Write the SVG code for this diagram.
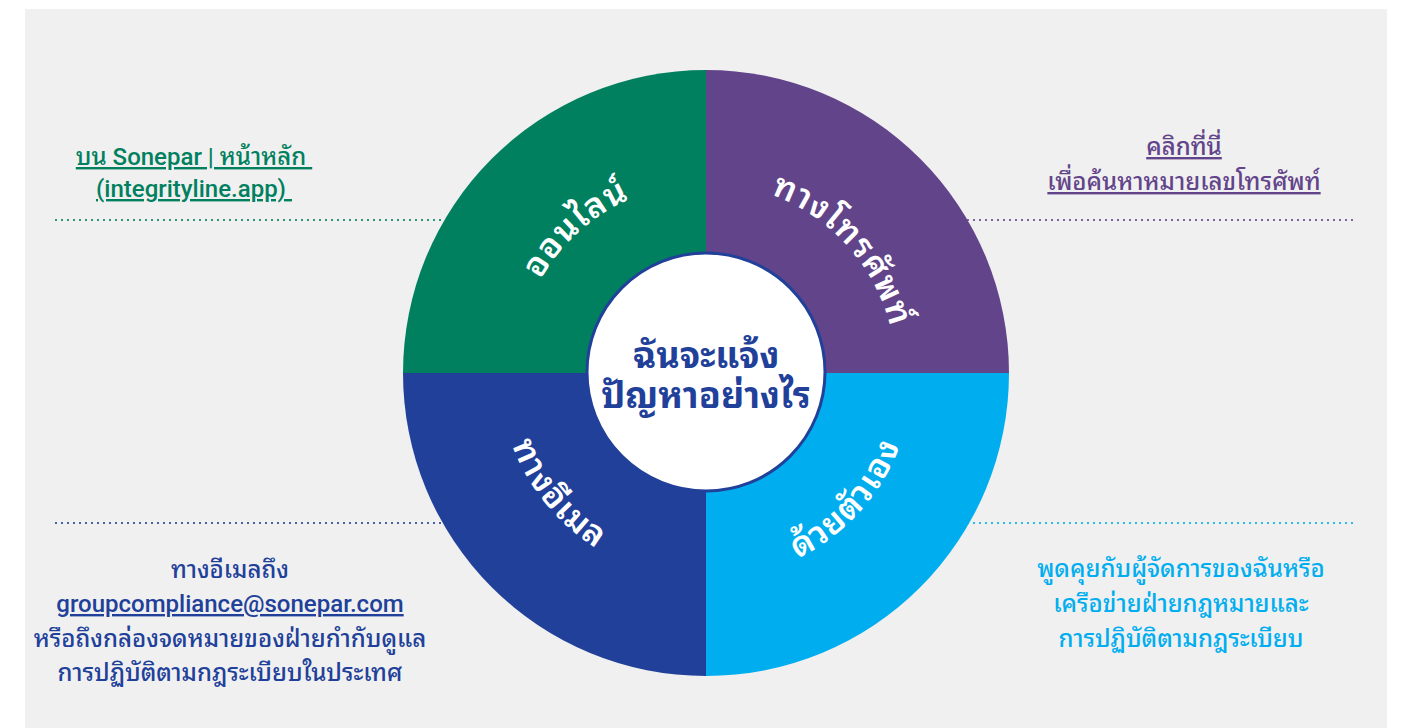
<svg xmlns="http://www.w3.org/2000/svg" width="1401" height="728" viewBox="0 0 1401 728">
<style>
.t{font-family:"Roboto","Noto Sans Thai Looped","Noto Sans Thai",sans-serif;text-anchor:middle;font-weight:500;font-size:24px;white-space:pre}
.u{text-decoration:underline}
.c{font-size:36px;font-weight:700;fill:#21409a}
.q{font-family:"Roboto","Noto Sans Thai Looped","Noto Sans Thai",sans-serif;text-anchor:middle;font-weight:600;font-size:34px;letter-spacing:1px;fill:#fff}
.dot{fill:none;stroke-width:2.2;stroke-linecap:round;stroke-dasharray:0 6}
</style>
<defs>
<path id="arc-online" d="M520.2 412.5 A190 190 0 0 1 764.7 192.3"/>
<path id="arc-phone" d="M666.5 187.2 A190 190 0 0 1 886.7 431.7"/>
<path id="arc-email" d="M512.5 299.5 A207 207 0 0 0 739.1 577.3"/>
<path id="arc-self" d="M663 575.5 A207 207 0 0 0 902.9 309"/>
</defs>
<rect x="25" y="9" width="1362" height="719" fill="#f0f0f0"/>
<g id="connectors">
<line class="dot" x1="56" y1="220" x2="450" y2="220" stroke="#00805f"/>
<line class="dot" x1="962" y1="220" x2="1357" y2="220" stroke="#62448a"/>
<line class="dot" x1="56" y1="523" x2="450" y2="523" stroke="#21409a"/>
<line class="dot" x1="962" y1="523" x2="1357" y2="523" stroke="#00aeef"/>
</g>
<g id="online">
<path d="M706 373 V70 A303 303 0 0 0 403 373 Z" fill="#00805f"/>
<text class="q"><textPath href="#arc-online" startOffset="50%">ออนไลน์</textPath></text>
</g>
<g id="phone">
<path d="M706 373 V70 A303 303 0 0 1 1009 373 Z" fill="#62448a"/>
<text class="q"><textPath href="#arc-phone" startOffset="50%">ทางโทรศัพท์</textPath></text>
</g>
<g id="email">
<path d="M706 373 H403 A303 303 0 0 0 706 676 Z" fill="#21409a"/>
<text class="q"><textPath href="#arc-email" startOffset="50%">ทางอีเมล</textPath></text>
</g>
<g id="self">
<path d="M706 373 H1009 A303 303 0 0 1 706 676 Z" fill="#00aeef"/>
<text class="q"><textPath href="#arc-self" startOffset="50%">ด้วยตัวเอง</textPath></text>
</g>
<g id="center">
<circle cx="706" cy="372" r="119" fill="#fff" stroke="#21409a" stroke-width="3"/>
<text class="t c" x="706" y="368">ฉันจะแจ้ง</text>
<text class="t c" x="706" y="408">ปัญหาอย่างไร</text>
</g>
<g id="label-online" fill="#00805f">
<text class="t u" x="194" y="165">บน Sonepar | หน้าหลัก </text>
<text class="t u" x="194" y="197">(integrityline.app) </text>
</g>
<g id="label-phone" fill="#62448a">
<text class="t u" x="1184" y="155">คลิกที่นี่</text>
<text class="t u" x="1184" y="190">เพื่อค้นหาหมายเลขโทรศัพท์</text>
</g>
<g id="label-email" fill="#21409a">
<text class="t" x="230" y="578">ทางอีเมลถึง</text>
<text class="t u" x="230" y="612">groupcompliance@sonepar.com</text>
<text class="t" x="230" y="647">หรือถึงกล่องจดหมายของฝ่ายกำกับดูแล</text>
<text class="t" x="230" y="681">การปฏิบัติตามกฎระเบียบในประเทศ</text>
</g>
<g id="label-self" fill="#00aeef">
<text class="t" x="1181" y="577">พูดคุยกับผู้จัดการของฉันหรือ</text>
<text class="t" x="1181" y="612">เครือข่ายฝ่ายกฎหมายและ</text>
<text class="t" x="1181" y="647">การปฏิบัติตามกฎระเบียบ</text>
</g>
</svg>
